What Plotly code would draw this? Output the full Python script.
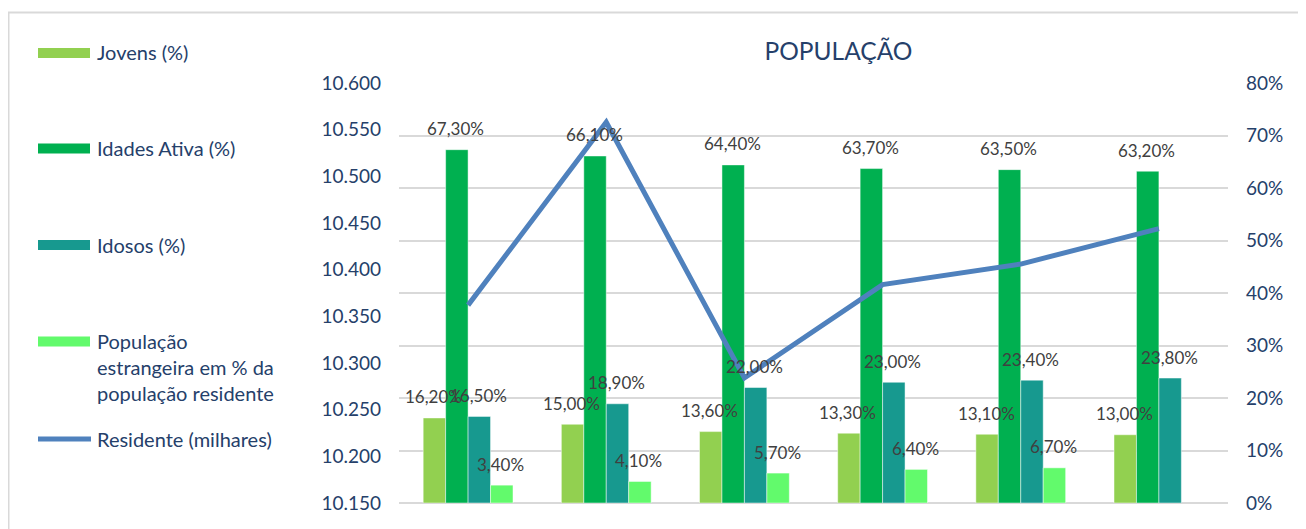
import plotly.graph_objects as go

# ---- data ----
categories = ["2016", "2017", "2018", "2019", "2020", "2021"]
jovens = [16.2, 15.0, 13.6, 13.3, 13.1, 13.0]
idades_ativa = [67.3, 66.1, 64.4, 63.7, 63.5, 63.2]
idosos = [16.5, 18.9, 22.0, 23.0, 23.4, 23.8]
estrangeira = [3.4, 4.1, 5.7, 6.4, 6.7, None]
residente = [10362, 10558, 10284, 10384, 10406, 10444]

series_names = ["Jovens (%)", "Idades Ativa (%)", "Idosos (%)",
                "População<br>estrangeira em % da<br>população residente"]
line_name = "Residente (milhares)"
title_text = "POPULAÇÃO"

colors = ["#92D050", "#00B050", "#17998F", "#62FA6C"]
line_color = "#4F81BD"
text_color = "#25406A"
label_color = "#404040"
grid_color = "#D9D9D9"
FONT = "Lato"

OFF = 8  # page body margin
W, H = 1306 - OFF, 529 - OFF
L, R, T, B = 399 - OFF, 1228 - OFF, 83 - OFF, 503 - OFF


def X(px):  # screen px -> paper
    return (px - OFF - L) / (R - L)


def Y(py):
    return (B - (py - OFF)) / (B - T)


fig = go.Figure()
bar_series = [jovens, idades_ativa, idosos, estrangeira]
for name, vals, col in zip(series_names, bar_series, colors):
    fig.add_trace(go.Bar(
        x=categories, y=vals, name=name, marker_color=col,
        marker_line_color="rgba(255,255,255,0.6)", marker_line_width=0.8,
        yaxis="y", showlegend=False, hoverinfo="skip"))

fig.add_trace(go.Scatter(
    x=categories, y=residente, name=line_name, mode="lines",
    line=dict(color=line_color, width=5), yaxis="y2", showlegend=False))

bargap = 0.35
cat_w = (R - L) / len(categories)
bar_w = cat_w * (1 - bargap) / 4

annotations = []
for i, vals in enumerate(bar_series):
    for k, v in enumerate(vals):
        if v is None:
            continue
        annotations.append(dict(
            x=k, y=v, xref="x", yref="y", showarrow=False,
            text=f"{v:.2f}".replace(".", ",") + "%",
            xshift=(i - 1.5) * bar_w - 1, yshift=21, yanchor="middle",
            font=dict(family=FONT, size=17, color=label_color)))

# custom legend
shapes = []
legend_y = [53, 148.5, 245, 341.5]
text_y = [52, 148, 245, 367]
for name, col, sy, ty in zip(series_names, colors, legend_y, text_y):
    shapes.append(dict(type="rect", xref="paper", yref="paper",
                       x0=X(38), x1=X(90), y0=Y(sy + 5), y1=Y(sy - 5),
                       fillcolor=col, line_width=0))
    annotations.append(dict(x=X(95), y=Y(ty), xref="paper", yref="paper",
                            text=name, showarrow=False, xanchor="left",
                            yanchor="middle", align="left",
                            font=dict(family=FONT, size=20, color=text_color)))
shapes.append(dict(type="line", xref="paper", yref="paper",
                   x0=X(38), x1=X(91), y0=Y(439), y1=Y(439),
                   line=dict(color=line_color, width=5)))
annotations.append(dict(x=X(95), y=Y(439), xref="paper", yref="paper",
                        text=line_name, showarrow=False, xanchor="left",
                        yanchor="middle",
                        font=dict(family=FONT, size=20, color=text_color)))

# chart border
shapes.append(dict(type="rect", xref="paper", yref="paper",
                   x0=X(8.5), x1=X(1330), y0=Y(560), y1=Y(12.5),
                   line=dict(color=grid_color, width=2), fillcolor="rgba(0,0,0,0)",
                   layer="below"))

fig.update_layout(
    width=W, height=H,
    margin=dict(l=L, r=W - R, t=T, b=H - B),
    paper_bgcolor="white", plot_bgcolor="white",
    separators=",.",
    barmode="group", bargap=bargap, bargroupgap=0,
    font=dict(family=FONT, color=text_color),
    title=dict(text=title_text, x=(838.5 - OFF) / W, xanchor="center",
               y=1 - (51 - OFF) / H, yanchor="middle",
               font=dict(family=FONT, size=24.5, color=text_color)),
    xaxis=dict(type="category", range=[-0.5, len(categories) - 0.5],
               autorange=False, showticklabels=False, showgrid=False,
               zeroline=False, showline=False, ticks=""),
    yaxis=dict(side="right", range=[0, 80], dtick=10, ticksuffix="%",
               showgrid=True, gridcolor=grid_color, gridwidth=1.5,
               zeroline=True, zerolinecolor=grid_color, zerolinewidth=1.5,
               showline=False, ticks="", ticklabelstandoff=17,
               tickfont=dict(family=FONT, size=19, color=text_color)),
    yaxis2=dict(side="left", overlaying="y", range=[10150, 10600], dtick=50,
                tickformat=",d", showgrid=False, zeroline=False, showline=False,
                ticks="", ticklabelstandoff=17,
                tickfont=dict(family=FONT, size=19, color=text_color)),
    annotations=annotations, shapes=shapes, showlegend=False,
)

fig.write_html("out.html")
